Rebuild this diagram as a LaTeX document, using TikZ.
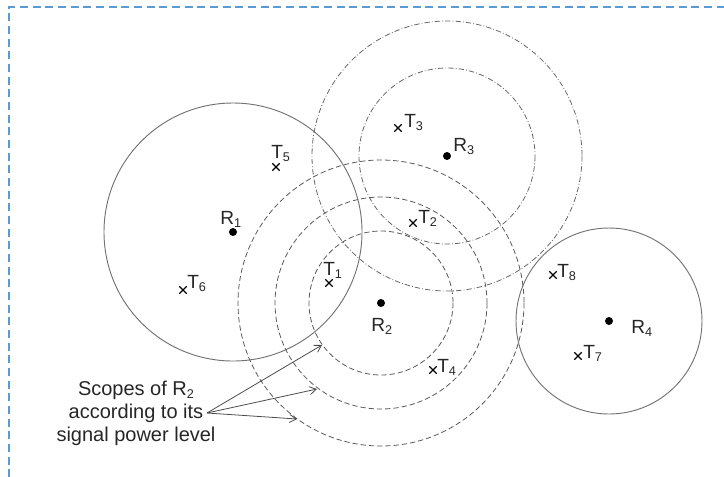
\documentclass[tikz,border=0pt]{standalone}
\usepackage{fontspec}
\setmainfont{Liberation Sans}
\usetikzlibrary{arrows.meta,shapes.misc}
\newcommand\sbs[1]{\raisebox{-0.17em}{{\fontsize{9.5}{9.5}\selectfont #1}}}
\definecolor{frameblue}{HTML}{5B9BD5}
\begin{document}
\begin{tikzpicture}[x=0.75pt,y=-0.75pt,
  rx/.style={circle, fill=black, inner sep=0pt, minimum size=6pt},
  tx/.style={cross out, draw=black, line width=1pt, inner sep=0pt, minimum size=4.6pt},
  lab/.style={anchor=base west, inner sep=0pt, font=\fontsize{14.3}{16}\selectfont, text=black!85},
  solidc/.style={draw=black!55, line width=0.7pt},
  dashc/.style={draw=black!65, line width=0.6pt, dash pattern=on 4pt off 2.2pt},
  dotc/.style={draw=black!60, line width=0.6pt, dash pattern=on 4pt off 1.6pt on 0.6pt off 1.6pt},
  arr/.style={draw=black!70, line width=0.6pt, -{Straight Barb[length=5pt,width=6pt]}},
  frame/.style={draw=frameblue, line width=1.6pt, dash pattern=on 6pt off 3.5pt}]
\useasboundingbox (0,0) rectangle (724,476);
\draw[frame] (9,490) -- (9,7) -- (740,7);

% receivers
\node[rx] (r1) at (233,232) {};
\node[rx] (r2) at (381,303) {};
\node[rx] (r3) at (447,156) {};
\node[rx] (r4) at (609,321) {};

% ranges
\draw[solidc] (r1) circle[radius=129];
\draw[solidc] (r4) circle[radius=93];
\draw[dashc] (r2) circle[radius=72];
\draw[dashc] (r2) circle[radius=106];
\draw[dashc] (r2) circle[radius=143];
\draw[dotc] (r3) circle[radius=88];
\draw[dotc] (r3) circle[radius=135];

% receiver labels
\node[lab] (lr1) at (220,224) {R\sbs{1}};
\node[lab] (lr2) at (371,331) {R\sbs{2}};
\node[lab] (lr3) at (453,151) {R\sbs{3}};
\node[lab] (lr4) at (631,333) {R\sbs{4}};

% transmitters
\node[tx] (t1) at (329,283) {};
\node[tx] (t2) at (413,223) {};
\node[tx] (t3) at (398,128) {};
\node[tx] (t4) at (433,370) {};
\node[tx] (t5) at (276,167) {};
\node[tx] (t6) at (183,290) {};
\node[tx] (t7) at (578,356) {};
\node[tx] (t8) at (553,275) {};

\node[lab] (lt1) at (323,275) {T\sbs{1}};
\node[lab] (lt2) at (418,223) {T\sbs{2}};
\node[lab] (lt3) at (404,127) {T\sbs{3}};
\node[lab] (lt4) at (437,372) {T\sbs{4}};
\node[lab] (lt5) at (271,158) {T\sbs{5}};
\node[lab] (lt6) at (187,288) {T\sbs{6}};
\node[lab] (lt7) at (583,358) {T\sbs{7}};
\node[lab] (lt8) at (557,277) {T\sbs{8}};

% annotation
\node[align=center, inner sep=0pt, font=\fontsize{15}{17.25}\selectfont, text=black!85] (scope) at (136,413)
  {Scopes of R\sbs{2}\\according to its\\signal power level};
\coordinate (src) at (207,413);
\coordinate (e1) at (322,345);
\coordinate (e2) at (317,389);
\coordinate (e3) at (297,419);
\draw[arr] (src) -- (e1);
\draw[arr] (src) -- (e2);
\draw[arr] (src) -- (e3);
\end{tikzpicture}
\end{document}
